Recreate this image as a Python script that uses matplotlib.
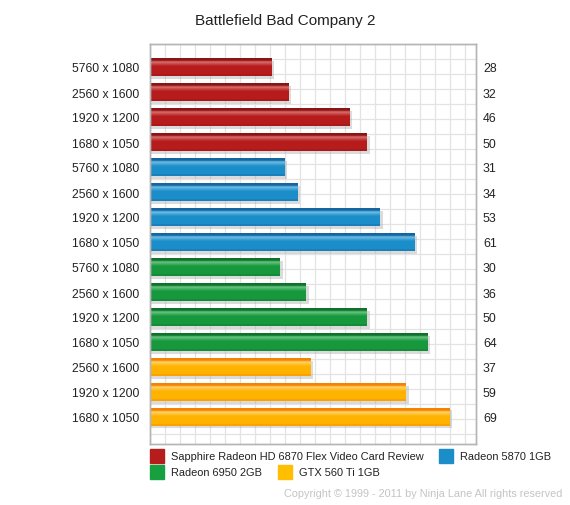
import numpy as np
import matplotlib
matplotlib.use("Agg")
import matplotlib.pyplot as plt
from matplotlib.patches import Rectangle
from matplotlib.colors import to_rgb

plt.rcParams['font.family'] = ['Liberation Sans', 'DejaVu Sans']

# data, top to bottom
sapphire_res = ['5760 x 1080', '2560 x 1600', '1920 x 1200', '1680 x 1050']
sapphire_fps = [28, 32, 46, 50]
r5870_res = ['5760 x 1080', '2560 x 1600', '1920 x 1200', '1680 x 1050']
r5870_fps = [31, 34, 53, 61]
r6950_res = ['5760 x 1080', '2560 x 1600', '1920 x 1200', '1680 x 1050']
r6950_fps = [30, 36, 50, 64]
gtx560_res = ['2560 x 1600', '1920 x 1200', '1680 x 1050']
gtx560_fps = [37, 59, 69]

series = ['Sapphire Radeon HD 6870 Flex Video Card Review', 'Radeon 5870 1GB',
          'Radeon 6950 2GB', 'GTX 560 Ti 1GB']
# (main, dark top, highlight, legend)
styles = [('#b71c1c', '#8c1414', '#d86e6e', '#b71c1c'),
          ('#1b8ec9', '#1565a0', '#6cbce6', '#1b8ec9'),
          ('#17983c', '#0f722b', '#66c480', '#16a03f'),
          ('#ffb300', '#f58200', '#ffd36a', '#ffbf00')]

labels = sapphire_res + r5870_res + r6950_res + gtx560_res
values = sapphire_fps + r5870_fps + r6950_fps + gtx560_fps
groups = [0] * 4 + [1] * 4 + [2] * 4 + [3] * 3

W, H = 570, 506
fig = plt.figure(figsize=(W / 100, H / 100), dpi=100)
ax = fig.add_axes([150 / W, 1 - 445 / H, 326 / W, 400 / H])

xmax = 75.0
ax.set_xlim(0, xmax)
ax.set_ylim(15.08, -0.92)

# square background grid, 15 px cells
px_x = xmax / 326
px_y = 16.0 / 400
for gx in np.arange(0, xmax, 15 * px_x):
    ax.axvline(gx, color='#e3e3e3', lw=0.9, zorder=0)
for gy in np.arange(-0.92, 15.08, 15 * px_y):
    ax.axhline(gy, color='#e3e3e3', lw=0.9, zorder=0)


def mix(c1, c2, t):
    a, b = np.array(to_rgb(c1)), np.array(to_rgb(c2))
    return tuple(a * (1 - t) + b * t)


ypos = np.arange(len(values))
bh = 0.72
nstrip = 18
for i, (v, g) in enumerate(zip(values, groups)):
    main, dark, hi, _ = styles[g]
    y = ypos[i]
    ax.barh(y + 2.5 * px_y, v + 0.5, height=bh, left=0, color='#9a9a9a', alpha=0.35, zorder=1)
    top = y - bh / 2
    sh = bh / nstrip
    for k in range(nstrip):
        f = (k + 0.5) / nstrip
        if f < 0.12:
            c = dark
        elif f < 0.22:
            c = mix(dark, hi, (f - 0.12) / 0.1)
        elif f < 0.45:
            c = mix(hi, main, (f - 0.22) / 0.23)
        elif f < 0.9:
            c = main
        else:
            c = mix(main, dark, 0.35)
        ax.barh(top + (k + 0.5) * sh, v, height=sh * 1.05, color=c, zorder=2, lw=0)

ax.set_yticks(ypos)
ax.set_yticklabels(labels, fontsize=8.7, color='#222222')
ax.tick_params(axis='y', length=0, pad=8)
ax.set_xticks([])

# value labels to the right of the frame
ax2 = ax.twinx()
ax2.set_ylim(ax.get_ylim())
ax2.set_yticks(ypos)
ax2.set_yticklabels([str(v) for v in values], fontsize=8.9, color='#222222')
ax2.tick_params(axis='y', length=0, pad=5)
ax2.set_xticks([])

for a in (ax, ax2):
    for s in a.spines.values():
        s.set_color('#b5b5b5')
        s.set_linewidth(1)

fig.text(285 / W, 1 - 21 / H, 'Battlefield Bad Company 2', ha='center', va='center',
         fontsize=11, color='#222222')


def legend_item(x, y, color, text):
    fig.add_artist(Rectangle((x / W, 1 - (y + 7) / H), 14 / W, 14 / H,
                             transform=fig.transFigure, color=color))
    fig.text((x + 21) / W, 1 - y / H, text, ha='left', va='center',
             fontsize=7.9, color='#222222')


legend_item(150, 457, styles[0][3], series[0])
legend_item(439, 457, styles[1][3], series[1])
legend_item(150, 473, styles[2][3], series[2])
legend_item(278, 473, styles[3][3], series[3])

fig.text(562 / W, 1 - 494 / H, 'Copyright \u00a9 1999 - 2011 by Ninja Lane All rights reserved',
         ha='right', va='center', fontsize=7.8, color='#c4c4c4')

fig.savefig('out.png', dpi=100)
